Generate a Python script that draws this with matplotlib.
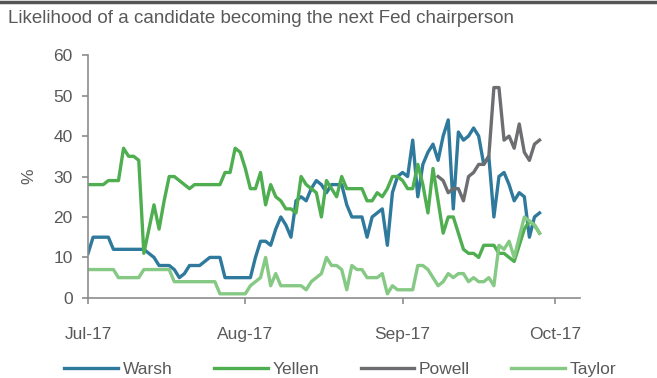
import numpy as np
import pandas as pd
import matplotlib
matplotlib.use("Agg")
from matplotlib import pyplot as plt

# daily readings, 1 Jul 2017 onwards (values in %)
warsh = [11, 15, 15, 15, 15, 12, 12, 12, 12, 12, 12, 12, 11, 10, 8, 8, 8, 7, 5, 6,
         8, 8, 8, 9, 10, 10, 10, 5, 5, 5, 5, 5, 5, 10, 14, 14, 13,
         17, 20, 18, 15, 24, 25, 24, 27, 29, 28, 26, 28, 28, 28,
         23, 20, 20, 20, 15, 20, 21, 22, 13, 26, 30, 31, 30, 39, 25, 33, 36, 38, 34,
         40, 44, 22, 41, 39, 40, 42, 40, 33, 35, 20, 30, 31, 28, 24, 26, 25, 15, 20, 21]
yellen = [28, 28, 28, 28, 29, 29, 29, 37, 35, 35, 34, 11, 17, 23, 17, 24, 30, 30, 29, 28,
          27, 28, 28, 28, 28, 28, 28, 31, 31, 37, 36,
          32, 27, 27, 31, 23, 28, 25, 24, 22, 22, 21, 30, 28, 27, 26, 20, 29, 27, 25, 30,
          27, 27, 27, 27, 24, 24, 26, 25, 27, 30, 30, 29, 27, 27, 33, 28, 21, 32, 24, 16,
          20, 20, 16, 12, 11, 11, 10, 13, 13, 13, 11, 11, 10, 9, 13, 17, 19, 18, 16]
taylor = [7, 7, 7, 7, 7, 7, 5, 5, 5, 5, 5, 7, 7, 7, 7, 7, 7, 4, 4, 4, 4, 4, 4, 4, 4, 4,
          1, 1, 1, 1, 1, 1,
          3, 4, 5, 10, 3, 6, 3, 3, 3, 3, 3, 2, 4, 5, 6, 10, 8, 8, 7, 2, 8, 7, 7, 5, 5, 5,
          6, 1, 3, 2, 2, 2, 2, 8, 8, 7, 5, 3, 4, 6, 5, 6, 6,
          4, 5, 4, 4, 5, 3, 13, 12, 14, 10, 15, 20, 19, 18, 16]
# Powell only quoted from 8 Sep
powell = [30, 29, 26, 27, 27, 24, 30, 31, 33, 33, 35, 52, 52, 39, 40, 37, 43, 36, 34, 38, 39]
powell_start = "2017-09-08"

names = ["Warsh", "Yellen", "Powell", "Taylor"]
colors = ["#2f7a9c", "#4fae4f", "#6d6e71", "#85c985"]
xtick_dates = ["2017-07-01", "2017-08-01", "2017-09-01", "2017-10-01"]
xtick_labels = ["Jul-17", "Aug-17", "Sep-17", "Oct-17"]

dates = pd.date_range("2017-07-01", periods=len(warsh), freq="D")
powell_dates = pd.date_range(powell_start, periods=len(powell), freq="D")

plt.rcParams["font.family"] = ["Liberation Sans", "DejaVu Sans"]
grey = "#595959"

fig = plt.figure(figsize=(6.57, 3.78), dpi=100)
ax = fig.add_axes([0.134, 0.212, 0.749, 0.642])

lw = 2.4
ax.plot(dates, warsh, color=colors[0], lw=lw, label=names[0])
ax.plot(dates, yellen, color=colors[1], lw=lw, label=names[1])
ax.plot(powell_dates, powell, color=colors[2], lw=lw, label=names[2])
ax.plot(dates, taylor, color=colors[3], lw=lw, label=names[3])

ax.set_ylim(0, 60)
ax.set_yticks(range(0, 61, 10))
ax.set_xlim(pd.Timestamp("2017-07-01"), pd.Timestamp("2017-10-06"))
ax.set_xticks(pd.to_datetime(xtick_dates))
ax.set_xticklabels(xtick_labels)

for s in ["top", "right"]:
    ax.spines[s].set_visible(False)
for s in ["left", "bottom"]:
    ax.spines[s].set_color("#8c8c8c")
    ax.spines[s].set_linewidth(1.2)
ax.tick_params(axis="both", colors="#8c8c8c", labelcolor=grey, labelsize=12.5, length=4, width=1.2)
ax.tick_params(axis="x", pad=17)
ax.tick_params(axis="y", pad=7)
ax.set_ylabel("%", color=grey, fontsize=12.5, labelpad=12)

fig.text(0.012, 0.952, "Likelihood of a candidate becoming the next Fed chairperson",
         color=grey, fontsize=13.5, va="center", ha="left")
fig.add_artist(plt.Line2D([0, 1], [0.995, 0.995], transform=fig.transFigure,
                          color="#555555", lw=2.5))

fig.legend(loc="center", bbox_to_anchor=(0.518, 0.022), ncol=4, frameon=False,
           fontsize=12.5, labelcolor=grey, handlelength=3.1, handletextpad=0.25,
           columnspacing=2.4)

fig.savefig("out.png", dpi=100)
